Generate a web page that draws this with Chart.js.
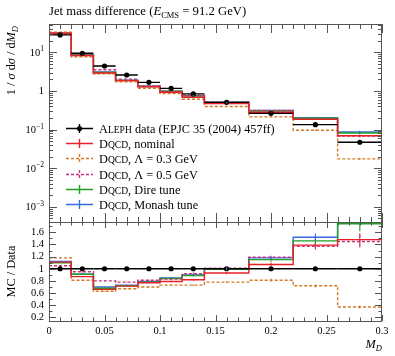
<!DOCTYPE html>
<html>
<head>
<meta charset="utf-8">
<script src="https://cdn.jsdelivr.net/npm/chart.js@4.4.1/dist/chart.umd.min.js"></script>
<style>
  html, body { margin: 0; padding: 0; background: #fff; }
  #wrap { position: relative; width: 395px; height: 356px; }
  canvas { position: absolute; left: 0; top: 0; }
</style>
</head>
<body>
<div id="wrap">
  <canvas id="mainChart" width="395" height="356"></canvas>
  <canvas id="ratioChart" width="395" height="356"></canvas>
</div>
<script>
// === data ===
const binEdges = [0, 0.02, 0.04, 0.06, 0.08, 0.10, 0.12, 0.14, 0.18, 0.22, 0.26, 0.30];
const dataVals = [28.3, 9.5, 4.44, 2.6, 1.68, 1.17, 0.84, 0.51, 0.264, 0.134, 0.047];
const dataErr  = [0.005, 0.005, 0.01, 0.01, 0.01, 0.01, 0.01, 0.01, 0.015, 0.02, 0.03];
const nominal  = [31.4, 8.27, 2.93, 1.86, 1.29, 0.924, 0.689, 0.474, 0.282, 0.186, 0.0696];
const lambda03 = [33.4, 7.70, 2.80, 1.74, 1.18, 0.854, 0.613, 0.398, 0.214, 0.0965, 0.0174];
const lambda05 = [29.7, 9.03, 3.55, 2.03, 1.36, 0.971, 0.773, 0.515, 0.314, 0.184, 0.0682];
const dire     = [31.1, 8.65, 3.02, 1.87, 1.31, 0.983, 0.748, 0.505, 0.304, 0.196, 0.0818];
const monash   = [31.7, 8.65, 3.11, 1.90, 1.33, 0.995, 0.756, 0.510, 0.312, 0.204, 0.087];
const dataRatio     = [1, 1, 1, 1, 1, 1, 1, 1, 1, 1, 1];
const nominalRatio  = [1.11, 0.87, 0.66, 0.715, 0.77, 0.79, 0.82, 0.93, 1.07, 1.39, 1.48];
const lambda03Ratio = [1.18, 0.81, 0.63, 0.67, 0.70, 0.73, 0.73, 0.78, 0.81, 0.72, 0.37];
const lambda05Ratio = [1.05, 0.95, 0.80, 0.78, 0.81, 0.83, 0.92, 1.01, 1.19, 1.37, 1.45];
const direRatio     = [1.10, 0.91, 0.68, 0.72, 0.78, 0.84, 0.89, 0.99, 1.15, 1.46, 1.74];
const monashRatio   = [1.12, 0.91, 0.70, 0.73, 0.79, 0.85, 0.90, 1.00, 1.18, 1.52, 1.85];
const mcErr = [0.005, 0.01, 0.01, 0.01, 0.01, 0.015, 0.02, 0.02, 0.03, 0.04, 0.07];

const xTicks = [0, 0.05, 0.1, 0.15, 0.2, 0.25, 0.3];
const xTickLabels = ["0", "0.05", "0.1", "0.15", "0.2", "0.25", "0.3"];
const mainYExps = [-3, -2, -1, 0, 1];
const ratioTicks = [0.2, 0.4, 0.6, 0.8, 1, 1.2, 1.4, 1.6];
const ratioTickLabels = ["0.2", "0.4", "0.6", "0.8", "1", "1.2", "1.4", "1.6"];

const dataLabel = "Aleph data (EPJC 35 (2004) 457ff)";
const series = [
  { label: "Dqcd, nominal",          color: "#e8202a", dash: [],     main: nominal,  ratio: nominalRatio },
  { label: "Dqcd, \u039b = 0.3 GeV", color: "#d47a26", dash: [3, 2], main: lambda03, ratio: lambda03Ratio },
  { label: "Dqcd, \u039b = 0.5 GeV", color: "#c8307a", dash: [3, 2], main: lambda05, ratio: lambda05Ratio },
  { label: "Dqcd, Dire tune",        color: "#1fa01f", dash: [],     main: dire,     ratio: direRatio },
  { label: "Dqcd, Monash tune",      color: "#3a6ae0", dash: [],     main: monash,   ratio: monashRatio },
];

const SERIF = '"Liberation Serif", "DejaVu Serif", serif';
const TXT = 12.3;
const fnt = (size, style) => (style || "") + " " + size + "px " + SERIF;

const richWidth = (ctx, parts) => {
  let w = 0;
  parts.forEach(p => { ctx.font = p.font; w += ctx.measureText(p.t).width; });
  return w;
};
const drawRich = (ctx, parts, x, y) => {
  parts.forEach(p => {
    ctx.font = p.font;
    ctx.fillText(p.t, x, y + (p.dy || 0));
    x += ctx.measureText(p.t).width;
  });
};
// small caps for "Aleph" and "Dqcd"
const labelParts = (text, size) => {
  const parts = [];
  text.split(/(Aleph|Dqcd)/).forEach(s => {
    if (!s) return;
    if (s === "Aleph" || s === "Dqcd") {
      parts.push({ t: s[0], font: fnt(size) });
      parts.push({ t: s.slice(1).toUpperCase(), font: fnt(size * 0.78) });
    } else parts.push({ t: s, font: fnt(size) });
  });
  return parts;
};

const centers = binEdges.slice(0, -1).map((e, i) => (e + binEdges[i + 1]) / 2);
const stepPoints = vals => binEdges.map((e, i) => ({ x: e, y: vals[Math.min(i, vals.length - 1)] }));

const buildDatasets = (dataV, key) => [
  {
    type: "scatter", label: dataLabel, isData: true, vals: dataV, err: dataErr,
    data: centers.map((c, i) => ({ x: c, y: dataV[i] })),
    pointRadius: 2.6, pointBackgroundColor: "#000", pointBorderWidth: 0, showLine: false,
  },
  ...series.map(s => ({
    type: "line", label: s.label, vals: s[key], err: mcErr,
    data: stepPoints(s[key]), stepped: true, borderColor: s.color, borderDash: s.dash,
    borderWidth: 1.4, pointRadius: 0, fill: false, dash: s.dash,
  })),
];

// frame with inward ticks, data bars and MC error crosses
const framePlugin = {
  id: "frame",
  afterDatasetsDraw(chart, args, opts) {
    const { ctx, chartArea: a, scales } = chart;
    const xs = scales.x, ys = scales.y;
    ctx.save();
    ctx.beginPath();
    ctx.rect(a.left, a.top, a.right - a.left, a.bottom - a.top);
    ctx.clip();
    chart.data.datasets.forEach(ds => {
      ds.vals.forEach((v, i) => {
        const cx = xs.getPixelForValue(centers[i]);
        const lo = ys.getPixelForValue(v * (1 - ds.err[i]));
        const hi = ys.getPixelForValue(v * (1 + ds.err[i]));
        ctx.setLineDash(ds.isData ? [] : (ds.dash || []));
        ctx.strokeStyle = ds.isData ? "#000" : ds.borderColor;
        ctx.lineWidth = ds.isData ? 1.3 : 1.1;
        ctx.beginPath();
        ctx.moveTo(cx, lo); ctx.lineTo(cx, hi);
        if (ds.isData) {
          const py = ys.getPixelForValue(v);
          ctx.moveTo(xs.getPixelForValue(binEdges[i]), py);
          ctx.lineTo(xs.getPixelForValue(binEdges[i + 1]), py);
        }
        ctx.stroke();
      });
    });
    ctx.restore();

    ctx.save();
    ctx.strokeStyle = "#555";
    ctx.lineWidth = 1;
    ctx.strokeRect(a.left + 0.5, a.top + 0.5, a.right - a.left - 1, a.bottom - a.top);
    ctx.beginPath();
    for (let k = 0; k <= 30; k++) {
      const v = k / 100;
      const len = k % 5 === 0 ? opts.xMajor : opts.xMinor;
      const px = Math.round(xs.getPixelForValue(v)) + 0.5;
      ctx.moveTo(px, a.bottom); ctx.lineTo(px, a.bottom - len);
      ctx.moveTo(px, a.top); ctx.lineTo(px, a.top + len);
    }
    opts.yTicks(ys).forEach(t => {
      const py = Math.round(ys.getPixelForValue(t.v)) + 0.5;
      if (py < a.top || py > a.bottom) return;
      const len = t.major ? opts.yMajor : opts.yMinor;
      ctx.moveTo(a.left, py); ctx.lineTo(a.left + len, py);
      ctx.moveTo(a.right, py); ctx.lineTo(a.right - len, py);
    });
    ctx.stroke();
    ctx.restore();
    if (opts.extra) opts.extra(chart);
  },
};

const logTicks = () => {
  const out = [];
  for (let e = -4; e <= 1; e++) for (let k = 1; k <= 9; k++) out.push({ v: k * Math.pow(10, e), major: k === 1 });
  return out;
};
const linTicks = () => {
  const out = [];
  for (let k = 1; k <= 17; k++) out.push({ v: k / 10, major: k % 2 === 0 });
  return out;
};

const drawMainText = chart => {
  const { ctx, scales } = chart;
  ctx.save();
  ctx.fillStyle = "#000";
  ctx.textBaseline = "alphabetic";
  // title
  drawRich(ctx, [
    { t: "Jet mass difference (", font: fnt(TXT + 0.4) },
    { t: "E", font: fnt(TXT + 0.4, "italic") },
    { t: "CMS", font: fnt(8.5), dy: 2.5 },
    { t: " = 91.2 GeV)", font: fnt(TXT + 0.4) },
  ], 49, 15);
  // y tick labels
  mainYExps.forEach(e => {
    const py = scales.y.getPixelForValue(Math.pow(10, e)) + 3.5;
    const parts = e === 0 ? [{ t: "1", font: fnt(10.5) }]
      : [{ t: "10", font: fnt(10.5) }, { t: String(e).replace("-", "\u2212"), font: fnt(7.5), dy: -4.5 }];
    drawRich(ctx, parts, 44 - richWidth(ctx, parts), py);
  });
  // y title
  const yt = [
    { t: "1 / ", font: fnt(TXT) }, { t: "\u03c3", font: fnt(TXT, "italic") },
    { t: " d", font: fnt(TXT) }, { t: "\u03c3", font: fnt(TXT, "italic") },
    { t: " / d", font: fnt(TXT) }, { t: "M", font: fnt(TXT, "italic") },
    { t: "D", font: fnt(8.5, "italic"), dy: 2.5 },
  ];
  ctx.save();
  ctx.translate(15, 26);
  ctx.rotate(-Math.PI / 2);
  drawRich(ctx, yt, -richWidth(ctx, yt), 0);
  ctx.restore();
  // legend
  const lx0 = 66, lx1 = 93, tx = 99;
  chart.data.datasets.forEach((ds, i) => {
    const y = Math.round(128 + 15.2 * i) + 0.5;
    const cx = (lx0 + lx1) / 2;
    ctx.strokeStyle = ds.isData ? "#000" : ds.borderColor;
    ctx.lineWidth = 1.4;
    ctx.setLineDash(ds.isData ? [] : ds.dash);
    ctx.beginPath();
    ctx.moveTo(lx0, y); ctx.lineTo(lx1, y);
    ctx.moveTo(cx, y - 4.5); ctx.lineTo(cx, y + 4.5);
    ctx.stroke();
    ctx.setLineDash([]);
    if (ds.isData) {
      ctx.beginPath(); ctx.arc(cx, y, 2.6, 0, Math.PI * 2); ctx.fill();
    }
    drawRich(ctx, labelParts(ds.label, TXT), tx, y + 4);
  });
  ctx.restore();
};

const drawRatioText = chart => {
  const { ctx, chartArea: a } = chart;
  ctx.save();
  ctx.fillStyle = "#000";
  const yt = [{ t: "MC / Data", font: fnt(TXT) }];
  ctx.translate(15, (a.top + a.bottom) / 2);
  ctx.rotate(-Math.PI / 2);
  drawRich(ctx, yt, -richWidth(ctx, yt) / 2, 0);
  ctx.restore();
  ctx.save();
  ctx.fillStyle = "#000";
  const xt = [{ t: "M", font: fnt(TXT, "italic") }, { t: "D", font: fnt(8.5, "italic"), dy: 2.5 }];
  drawRich(ctx, xt, a.right - richWidth(ctx, xt), 348);
  ctx.restore();
};

const common = {
  responsive: false,
  animation: false,
  events: [],
};

// === main panel ===
new Chart(document.getElementById("mainChart"), {
  type: "line",
  data: { datasets: buildDatasets(dataVals, "main") },
  options: {
    ...common,
    layout: { padding: { top: 24, right: 13, bottom: 134, left: 0 } },
    plugins: {
      legend: { display: false }, tooltip: { enabled: false },
      frame: { xMajor: 9, xMinor: 5, yMajor: 8, yMinor: 4, yTicks: logTicks, extra: drawMainText },
    },
    scales: {
      x: { type: "linear", min: 0, max: 0.3, display: false },
      y: {
        type: "logarithmic", min: 4.04e-4, max: 54.4,
        afterFit: s => { s.width = 49; },
        grid: { display: false }, border: { display: false }, ticks: { display: false },
      },
    },
  },
  plugins: [framePlugin],
});

// === ratio panel ===
new Chart(document.getElementById("ratioChart"), {
  type: "line",
  data: { datasets: buildDatasets(dataRatio, "ratio") },
  options: {
    ...common,
    layout: { padding: { top: 222, right: 13, bottom: 0, left: 0 } },
    plugins: {
      legend: { display: false }, tooltip: { enabled: false },
      frame: { xMajor: 6, xMinor: 3.5, yMajor: 7, yMinor: 3.5, yTicks: linTicks, extra: drawRatioText },
    },
    scales: {
      x: {
        type: "linear", min: 0, max: 0.3,
        afterFit: s => { s.height = 35; },
        afterBuildTicks: s => { s.ticks = xTicks.map(v => ({ value: v })); },
        grid: { display: false, drawTicks: false }, border: { display: false },
        ticks: { autoSkip: false, maxRotation: 0, padding: 4, color: "#000", font: { family: SERIF, size: 10.5 },
                 callback: (v, i) => xTickLabels[i] },
      },
      y: {
        type: "linear", min: 0.14, max: 1.77,
        afterFit: s => { s.width = 49; },
        afterBuildTicks: s => { s.ticks = ratioTicks.map(v => ({ value: v })); },
        grid: { display: false, drawTicks: false }, border: { display: false },
        ticks: { autoSkip: false, padding: 5, color: "#000", font: { family: SERIF, size: 10.5 },
                 callback: (v, i) => ratioTickLabels[i] },
      },
    },
  },
  plugins: [framePlugin],
});
</script>
</body>
</html>
